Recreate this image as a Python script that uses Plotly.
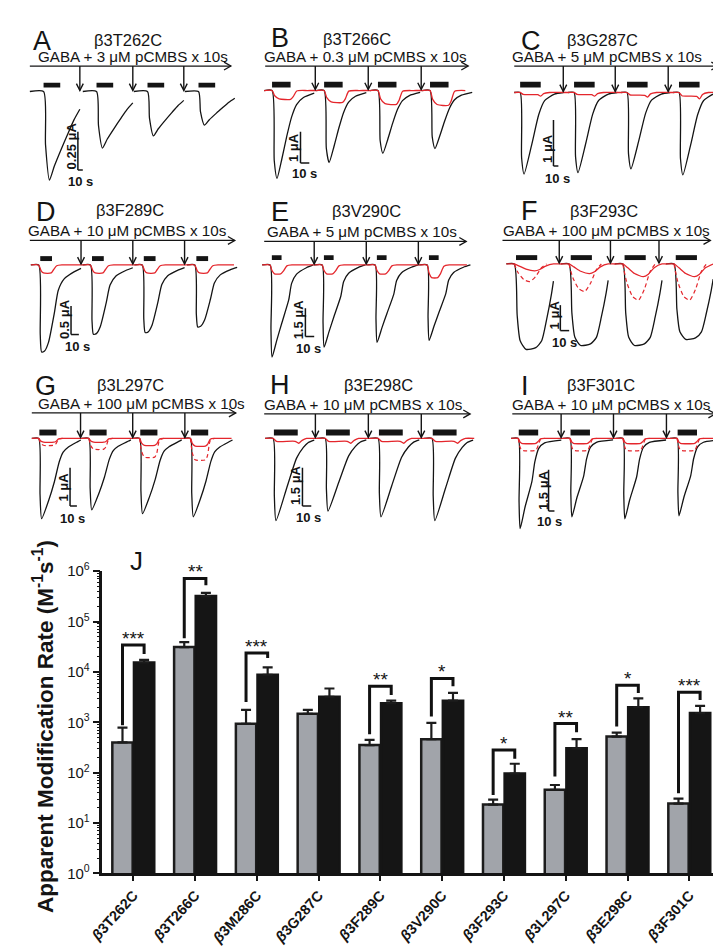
import math
import plotly.graph_objects as go

W, H = 721, 946
def X(px): return px / W
def Y(py): return 1 - py / H

FONT = "Arial, Liberation Sans, Helvetica, sans-serif"
INK = "#141414"
RED = "#E4262C"

# ===================== DATA: current traces (panels A–I) =====================
panel_letters = ["A", "B", "C", "D", "E", "F", "G", "H", "I"]
panel_mutants = ["β3T262C", "β3T266C", "β3G287C", "β3F289C", "β3V290C",
                 "β3F293C", "β3L297C", "β3E298C", "β3F301C"]
pcmbs_uM = ["3", "0.3", "5", "10", "5", "100", "100", "10", "10"]
scale_bar_uA = [0.25, 1, 1, 0.5, 1.5, 1, 1, 1.5, 1.5]
scale_bar_s = 10

sweep_onsets_s = [
    [0, 108, 212, 316], [0, 59, 120, 179], [0, 110, 218, 324],
    [0, 66, 132, 199], [0, 59, 119, 178], [0, 62, 123, 181],
    [0, 73, 147, 221], [0, 59, 119, 180], [0, 88, 178, 270],
]
gaba_delay_s = [0, 0, 0, 2, 2, 2, 1, 1, 1]
gaba_dur_s = [34, 21, 42, 15, 11, 24, 25, 27, 33]
pcmbs_arrow_s = [
    [74, 182, 286], [49, 109, 169], [88, 194, 302],
    [54, 120, 186], [50, 109, 168], [51, 109, 164],
    [61, 137, 213], [48, 108, 168], [73, 162, 252],
]

# black traces: response time course (s after onset) and fraction of the peak
black_t = [
    [-28, 0, 4, 12, 22, 36, 50, 62, 74],
    [-9, 0, 2.5, 5.6, 11.1, 16.7, 22.2, 27.8, 35.6, 47.8],
    [-12, 0, 3, 8, 24, 38, 50, 70, 88],
    [-10, 0, 2, 3.75, 7.5, 12.5, 20, 25, 32.5, 45, 54],
    [-9, 0, 1, 2.2, 7.8, 13.3, 21.1, 24.4, 30, 41.1, 49],
    [-9, 0, 3.3, 6.7, 13.3, 24.4, 31.1, 36.7, 42.2, 44.4],
    [-10, 0, 2, 4.3, 14.3, 22.9, 30, 35.7, 42.9, 57.1, 61.4],
    [-9, 0, 1.5, 3.3, 15.6, 26.7, 34.4, 40, 46.7],
    [-12, 0, 1.5, 3.3, 11.7, 23.3, 28.3, 35, 45, 73.3],
]
black_frac = [
    [0, 0, 0.6, 1.0, 0.84, 0.65, 0.47, 0.32, 0.2],
    [0, 0, 0.8, 1.0, 0.78, 0.52, 0.3, 0.16, 0.08, 0.03],
    [0, 0, 0.8, 1.0, 0.63, 0.27, 0.1, 0.02, 0],
    [0, 0, 0.8, 1.0, 0.99, 0.89, 0.55, 0.29, 0.16, 0.08, 0.04],
    [0, 0, 0.7, 1.0, 0.81, 0.63, 0.38, 0.2, 0.1, 0.03, 0],
    [0, 0, 0.6, 0.9, 1.0, 0.98, 0.9, 0.65, 0.35, 0.2],
    [0, 0, 0.7, 1.0, 0.78, 0.54, 0.29, 0.17, 0.11, 0.04, 0.02],
    [0, 0, 0.7, 1.0, 0.6, 0.24, 0.11, 0.05, 0.02],
    [0, 0, 0.7, 1.0, 0.76, 0.48, 0.26, 0.11, 0.05, 0.02],
]
black_peak_uA = [
    [0.58, 0.37, 0.29, 0.22], [2.8, 2.3, 2.0, 1.85], [1.77, 1.74, 1.66, 1.79],
    [1.53, 1.22, 1.19, 1.09], [4.87, 4.35, 4.09, 3.99], [3.35, 3.2, 3.2, 2.96],
    [2.1, 1.87, 1.97, 2.05], [3.23, 2.85, 3.08, 3.23], [3.29, 2.86, 2.93, 2.82],
]

# red (solid) traces
red_t = [
    None,
    [-9, 0, 3, 8, 21, 24, 28, 40],
    [-12, 0, 6, 36, 42, 48, 60, 88],
    [-10, 0, 3, 6, 16, 19, 23, 30, 50],
    [-9, 0, 2, 5, 12, 15, 19, 25, 45],
    [-9, 0, 5.6, 13.3, 23.3, 28.9, 35.6, 44.4],
    [-10, 0, 3, 7, 22, 25, 29, 35, 60],
    [-9, 0, 4, 25, 29, 33, 38, 48],
    [-12, 0, 3, 6, 30, 34, 38, 45, 75],
]
red_frac = [
    None,
    [0, 0, 0.6, 0.95, 1, 0.7, 0.05, 0],
    [0, 0, 0.5, 0.6, 1, 0.3, 0, 0],
    [0, 0, 0.7, 1, 1, 0.6, 0.1, 0, 0],
    [0, 0, 0.6, 1, 1, 0.7, 0.1, 0, 0],
    [0, 0, 0.3, 0.75, 1, 0.8, 0.3, 0],
    [0, 0, 0.7, 1, 1, 0.8, 0.1, 0, 0],
    [0, 0, 0.6, 0.6, 1, 0.4, 0, 0],
    [0, 0, 0.7, 1, 1, 0.6, 0.1, 0, 0],
]
red_peak_uA = [
    None, [0.28, 0.38, 0.44, 0.47], [0.08, 0.08, 0.1, 0.14],
    [0.14, 0.14, 0.14, 0.14], [0.47, 0.47, 0.47, 0.67], [0.27, 0.38, 0.5, 0.5],
    [0.1, 0.1, 0.18, 0.2], [0.19, 0.19, 0.19, 0.19], [0.18, 0.18, 0.18, 0.18],
]

# red dashed traces (panels F, G, I)
dash_t = [None, None, None, None, None,
          [0, 4.4, 11.1, 17.8, 24.4, 31.1, 36.7],
          [0, 3, 7, 22, 25, 29, 35],
          None,
          [0, 3, 6, 30, 34, 38, 45]]
dash_frac = [None, None, None, None, None,
             [0, 0.5, 0.9, 1, 0.7, 0.2, 0],
             [0, 0.7, 1, 1, 0.8, 0.1, 0],
             None,
             [0, 0.7, 1, 1, 0.6, 0.1, 0]]
dash_peak_uA = [None, None, None, None, None,
                [0.69, 1.08, 1.42, 1.42],
                [0.18, 0.28, 0.49, 0.56],
                None,
                [0.43, 0.43, 0.43, 0.43]]

# ===================== DATA: bar chart (panel J) =====================
mutants = ["β3T262C", "β3T266C", "β3M286C", "β3G287C", "β3F289C",
           "β3V290C", "β3F293C", "β3L297C", "β3E298C", "β3F301C"]
gray_rate = [400, 31200, 935, 1480, 354, 463, 23.3, 45.7, 522, 24.4]
gray_sem = [382, 7800, 835, 290, 95, 514, 5.9, 11.4, 103, 6.1]
black_rate = [15400, 320000, 8790, 3220, 2390, 2690, 96.5, 305, 2000, 1530]
black_sem = [2000, 52000, 3500, 1470, 300, 1160, 54, 158, 1000, 590]
sig_stars = ["***", "**", "***", "", "**", "*", "*", "**", "*", "***"]
sig_top = [34100, 718000, 23800, None, 5200, 7450, 283, 948, 5430, 3970]
sig_left_end = [880, 46700, 2540, None, 579, 1300, 36, 84, 829, 39]
sig_right_end = [22800, 525000, 19000, None, 3470, 5200, 189, 634, 3800, 2780]
y_tick_vals = [1, 10, 100, 1000, 10000, 100000, 1000000]
y_tick_text = ["10<sup>0</sup>", "10<sup>1</sup>", "10<sup>2</sup>", "10<sup>3</sup>",
               "10<sup>4</sup>", "10<sup>5</sup>", "10<sup>6</sup>"]

# ===================== LAYOUT (pixel positions of panel elements) =====================
panel_px = [
    dict(box=(0, 240, 0, 172), x0=22, base=74, pxs=0.5, pxua=156, arrow=(8, 213, 48), bar=(65, 70),
         letter=(9, 22), title=(108, 21), text=(113, 38.5), sb=(57, 154), sbl=(50, 130), sbs=(60, 166)),
    dict(box=(240, 480, 0, 172), x0=255, base=73, pxs=0.9, pxua=32, arrow=(248, 455, 48), bar=(64, 70),
         letter=(252, 19), title=(342, 20), text=(350, 38), sb=(284, 147), sbl=(277, 131), sbs=(288, 158)),
    dict(box=(480, 721, 0, 172), x0=508, base=75, pxs=0.5, pxua=47, arrow=(502, 710, 48), bar=(64, 70),
         letter=(507, 22), title=(592, 21), text=(597, 38.5), sb=(542, 150), sbl=(536, 132), sbs=(546, 163)),
    dict(box=(0, 240, 172, 348), x0=17, base=251, pxs=0.8, pxua=58, arrow=(8, 217, 226), bar=(242, 247),
         letter=(12, 197), title=(110, 195), text=(108, 215.5), sb=(50, 322), sbl=(44, 306), sbs=(57, 334)),
    dict(box=(240, 480, 172, 348), x0=253, base=251, pxs=0.9, pxua=19.3, arrow=(247, 453, 227), bar=(241, 246),
         letter=(252, 197), title=(351, 196), text=(347, 216.5), sb=(289, 324), sbl=(282, 307), sbs=(292, 336)),
    dict(box=(480, 721, 172, 348), x0=502, base=250, pxs=0.9, pxua=26, arrow=(490, 702, 226), bar=(241, 246),
         letter=(507, 196), title=(594, 196), text=(596, 215.5), sb=(549, 318), sbl=(543, 302), sbs=(553, 330)),
    dict(box=(0, 240, 348, 528), x0=17, base=428, pxs=0.7, pxua=39, arrow=(10, 218, 402), bar=(419, 425),
         letter=(11, 375), title=(111, 374), text=(122, 392), sb=(49, 497), sbl=(42, 478), sbs=(52, 510)),
    dict(box=(240, 480, 348, 528), x0=256, base=428, pxs=0.9, pxua=26, arrow=(247, 457, 403), bar=(419, 425),
         letter=(251, 373), title=(364, 374), text=(348, 393), sb=(286, 497), sbl=(279, 476), sbs=(292, 509)),
    dict(box=(480, 721, 348, 528), x0=506, base=428, pxs=0.6, pxua=28, arrow=(500, 707, 403), bar=(419, 425),
         letter=(507, 375), title=(590, 374), text=(601, 393), sb=(537, 502), sbl=(532, 481), sbs=(538, 513)),
]

fig = go.Figure()
layout = dict(width=W, height=H, margin=dict(l=0, r=0, t=0, b=0),
              paper_bgcolor="white", plot_bgcolor="rgba(0,0,0,0)", showlegend=False)
shapes, annotations = [], []

for p in range(9):
    g = panel_px[p]
    n = "" if p == 0 else str(p + 1)
    xa, ya = "x" + n, "y" + n
    bx0, bx1, by0, by1 = g["box"]
    layout["xaxis" + n] = dict(domain=[X(bx0), X(bx1)], anchor=ya, visible=False, fixedrange=True,
                               range=[(bx0 - g["x0"]) / g["pxs"], (bx1 - g["x0"]) / g["pxs"]])
    layout["yaxis" + n] = dict(domain=[Y(by1), Y(by0)], anchor=xa, visible=False, fixedrange=True,
                               range=[-(by1 - g["base"]) / g["pxua"], (g["base"] - by0) / g["pxua"]])
    onsets = sweep_onsets_s[p]

    # black sweeps
    bx, byy = [], []
    for k, on in enumerate(onsets):
        for t, f in zip(black_t[p], black_frac[p]):
            bx.append(on + t)
            byy.append(-black_peak_uA[p][k] * f)
        bx.append(None)
        byy.append(None)
    fig.add_trace(go.Scatter(x=bx, y=byy, xaxis=xa, yaxis=ya, mode="lines",
                             line=dict(color=INK, width=1.3, shape="spline", smoothing=0.6),
                             hoverinfo="skip"))
    # red dashed
    if dash_t[p] is not None:
        dx, dy = [], []
        for k, on in enumerate(onsets):
            for t, f in zip(dash_t[p], dash_frac[p]):
                dx.append(on + t)
                dy.append(-dash_peak_uA[p][k] * f)
            dx.append(None)
            dy.append(None)
        fig.add_trace(go.Scatter(x=dx, y=dy, xaxis=xa, yaxis=ya, mode="lines",
                                 line=dict(color=RED, width=1.2, dash="4px,3px", shape="spline", smoothing=0.6),
                                 hoverinfo="skip"))
    # red solid
    if red_t[p] is not None:
        rx, ry = [], []
        for k, on in enumerate(onsets):
            for t, f in zip(red_t[p], red_frac[p]):
                rx.append(on + t)
                ry.append(-red_peak_uA[p][k] * f)
        fig.add_trace(go.Scatter(x=rx, y=ry, xaxis=xa, yaxis=ya, mode="lines",
                                 line=dict(color=RED, width=1.3, shape="spline", smoothing=0.6),
                                 hoverinfo="skip"))

    # GABA application bars
    for on in onsets:
        s0 = on + gaba_delay_s[p]
        shapes.append(dict(type="rect", xref=xa, yref="paper", x0=s0, x1=s0 + gaba_dur_s[p],
                           y0=Y(g["bar"][1]), y1=Y(g["bar"][0]), fillcolor=INK, line=dict(width=0)))
    # long horizontal arrow
    ax0, ax1, ay = g["arrow"]
    shapes.append(dict(type="line", xref="paper", yref="paper", x0=X(ax0), x1=X(ax1), y0=Y(ay), y1=Y(ay),
                       line=dict(color=INK, width=1.3)))
    shapes.append(dict(type="path", xref="paper", yref="paper",
                       path=f"M {X(ax1 - 7)},{Y(ay - 4)} L {X(ax1)},{Y(ay)} L {X(ax1 - 7)},{Y(ay + 4)}",
                       line=dict(color=INK, width=1.3)))
    # pCMBS application arrows
    dt = 3.5 / g["pxs"]
    for t in pcmbs_arrow_s[p]:
        shapes.append(dict(type="line", xref=xa, yref="paper", x0=t, x1=t, y0=Y(ay), y1=Y(g["base"] - 1),
                           line=dict(color=INK, width=1.4)))
        shapes.append(dict(type="path", xref=xa, yref="paper",
                           path=f"M {t - dt},{Y(g['base'] - 8)} L {t},{Y(g['base'] - 1)} L {t + dt},{Y(g['base'] - 8)}",
                           line=dict(color=INK, width=1.4)))
    # scale bars
    tsb = (g["sb"][0] - g["x0"]) / g["pxs"]
    isb = -(g["sb"][1] - g["base"]) / g["pxua"]
    shapes.append(dict(type="line", xref=xa, yref=ya, x0=tsb, x1=tsb, y0=isb, y1=isb + scale_bar_uA[p],
                       line=dict(color=INK, width=1.5)))
    shapes.append(dict(type="line", xref=xa, yref=ya, x0=tsb, x1=tsb + scale_bar_s, y0=isb, y1=isb,
                       line=dict(color=INK, width=1.5)))

    # texts
    annotations.append(dict(text=panel_letters[p], x=X(g["letter"][0]), y=Y(g["letter"][1]), xref="paper",
                            yref="paper", xanchor="left", yanchor="middle", showarrow=False,
                            font=dict(family=FONT, size=27, color=INK)))
    annotations.append(dict(text=panel_mutants[p], x=X(g["title"][0]), y=Y(g["title"][1]), xref="paper",
                            yref="paper", xanchor="center", yanchor="middle", showarrow=False,
                            font=dict(family=FONT, size=16.5, color=INK)))
    annotations.append(dict(text=f"GABA + {pcmbs_uM[p]} μM pCMBS x 10s", x=X(g["text"][0]), y=Y(g["text"][1]),
                            xref="paper", yref="paper", xanchor="center", yanchor="middle", showarrow=False,
                            font=dict(family=FONT, size=15.2, color=INK)))
    annotations.append(dict(text=f"{scale_bar_uA[p]:g} μA", x=X(g["sbl"][0]), y=Y(g["sbl"][1]), xref="paper",
                            yref="paper", xanchor="center", yanchor="middle", showarrow=False, textangle=-90,
                            font=dict(family=FONT, size=13, color=INK, weight="bold")))
    annotations.append(dict(text=f"{scale_bar_s} s", x=X(g["sbs"][0]), y=Y(g["sbs"][1]), xref="paper",
                            yref="paper", xanchor="center", yanchor="middle", showarrow=False,
                            font=dict(family=FONT, size=13, color=INK, weight="bold")))

# ===================== Panel J: bar chart =====================
idx = list(range(len(mutants)))
bargap = 0.3
half = (1 - bargap) / 4
fig.add_trace(go.Bar(x=idx, y=gray_rate, xaxis="x10", yaxis="y10", offsetgroup="g",
                     marker=dict(color="#A1A4AA", line=dict(color="#1c1c1c", width=2.5)),
                     error_y=dict(type="data", array=gray_sem, arrayminus=[0] * len(idx), symmetric=False,
                                  color="#1c1c1c", thickness=2.2, width=5),
                     hoverinfo="skip"))
fig.add_trace(go.Bar(x=idx, y=black_rate, xaxis="x10", yaxis="y10", offsetgroup="b",
                     marker=dict(color="#151515", line=dict(color="#151515", width=2.5)),
                     error_y=dict(type="data", array=black_sem, arrayminus=[0] * len(idx), symmetric=False,
                                  color="#1c1c1c", thickness=2.2, width=5),
                     hoverinfo="skip"))
for k in idx:
    if sig_top[k] is None:
        continue
    fig.add_trace(go.Scatter(x=[k - half, k - half, k + half, k + half],
                             y=[sig_left_end[k], sig_top[k], sig_top[k], sig_right_end[k]],
                             xaxis="x10", yaxis="y10", mode="lines",
                             line=dict(color="#111111", width=3), hoverinfo="skip"))
    annotations.append(dict(text=sig_stars[k], x=k, y=math.log10(sig_top[k]), xref="x10", yref="y10",
                            xanchor="center", yanchor="bottom", yshift=-6, showarrow=False,
                            font=dict(family=FONT, size=19, color=INK)))

layout["barmode"] = "group"
layout["bargap"] = bargap
layout["bargroupgap"] = 0.06
layout["xaxis10"] = dict(domain=[X(82), X(712)], anchor="y10", range=[-0.5, 9.5],
                         tickvals=idx, ticktext=[m.replace("β", "<i>β</i>") for m in mutants],
                         tickangle=-48, ticks="outside", ticklen=5, tickwidth=2, tickcolor=INK,
                         showline=True, linewidth=2.5, linecolor=INK, showgrid=False, zeroline=False,
                         tickfont=dict(family=FONT, size=14.5, color=INK, weight="bold"), fixedrange=True)
layout["yaxis10"] = dict(domain=[Y(872), Y(563.5)], anchor="x10", type="log", range=[0, 6],
                         tickvals=y_tick_vals, ticktext=y_tick_text, ticks="outside", ticklen=7, tickwidth=2,
                         tickcolor=INK, showline=True, linewidth=2.5, linecolor=INK, showgrid=False,
                         zeroline=False, tickfont=dict(family=FONT, size=15, color=INK), fixedrange=True,
                         minor=dict(ticks="outside", ticklen=3, tickwidth=1, tickcolor=INK,
                                    tickvals=[m * 10 ** e for e in range(6) for m in range(2, 10)]))
annotations.append(dict(text="J", x=X(117), y=Y(553), xref="paper", yref="paper", xanchor="center",
                        yanchor="middle", showarrow=False, font=dict(family=FONT, size=26, color=INK)))
annotations.append(dict(text="Apparent Modification Rate (M<sup>-1</sup>s<sup>-1</sup>)", x=X(22), y=Y(722),
                        xref="paper", yref="paper", xanchor="center", yanchor="middle", showarrow=False,
                        textangle=-90, font=dict(family=FONT, size=22.5, color=INK, weight="bold")))

layout["shapes"] = shapes
layout["annotations"] = annotations
fig.update_layout(**layout)
fig.write_html("out.html")
